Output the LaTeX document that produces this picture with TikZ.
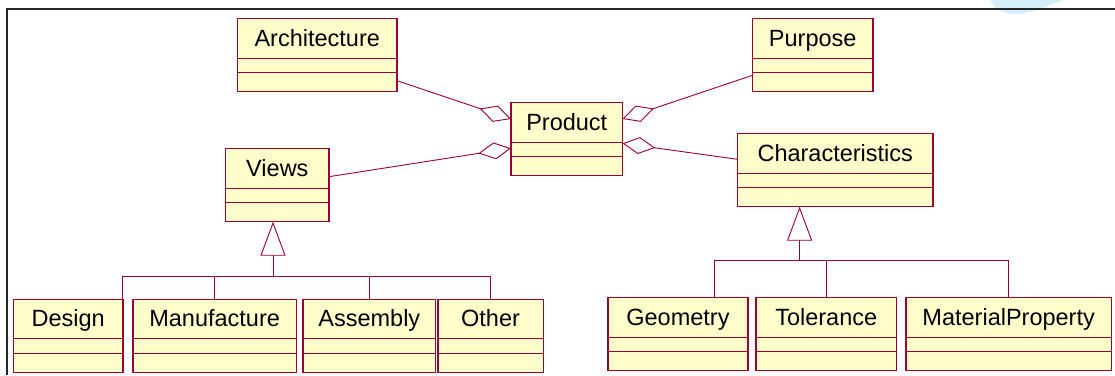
\documentclass[tikz,border=0pt]{standalone}
\usepackage{fontspec}
\setmainfont{Liberation Sans}
\usetikzlibrary{arrows.meta}
\definecolor{umlred}{RGB}{153,0,51}
\definecolor{umlfill}{RGB}{255,255,204}
\definecolor{blobblue}{RGB}{214,238,250}

\begin{document}
\begin{tikzpicture}[x=1pt,y=-1pt,
    classbox/.style={draw=umlred, fill=umlfill, line width=1.3pt, minimum width=#1,
        inner sep=0pt, outer sep=0pt, text height=27.5pt, text depth=45.5pt,
        anchor=north west, font=\fontsize{23.5}{28}\selectfont},
    umlline/.style={draw=umlred, line width=0.9pt},
    aggr/.style={umlline, -{Diamond[open, length=33pt, width=17pt]}},
    inherit/.style={umlline, -{Triangle[open, length=34pt, width=25pt]}}]
                \useasboundingbox (0,0) rectangle (1115,375);

                \fill[blobblue] (990,0) .. controls (995,10) and (1005,15) .. (1020,14)
                    .. controls (1035,12) and (1050,5) .. (1063,0) -- cycle;
                \draw[line width=2pt, black!85] (6.7,375) -- (6.7,9.3) -- (1115,9.3);

                \node[classbox=159.5pt] (arch) at (237.5,18.7) {Architecture};
                \node[classbox=120.5pt] (purp) at (752.5,18.7) {Purpose};
                \node[classbox=111.5pt] (prod) at (511,102.7) {Product};
                \node[classbox=195.5pt] (char) at (737.5,133.7) {Characteristics};
                \node[classbox=103.3pt] (views) at (225.7,148.7) {Views};

                \node[classbox=109.3pt] (design) at (13.6,299.3) {Design};
                \node[classbox=163.5pt] (manuf) at (132.9,299.3) {Manufacture};
                \node[classbox=132.8pt] (assem) at (302.9,299.3) {Assembly};
                \node[classbox=105.3pt] (other) at (437.9,299.3) {Other};
                \node[classbox=140.1pt] (geom) at (607.9,297.7) {Geometry};
                \node[classbox=140.4pt] (toler) at (756,297.7) {Tolerance};
                \node[classbox=205.3pt] (matpr) at (906,297.7) {MaterialProperty};

                \foreach \n in {arch,purp,prod,char,views,design,manuf,assem,other,geom,toler,matpr}
                    \draw[umlline] ([yshift=-39.5pt]\n.north west) -- ([yshift=-39.5pt]\n.north east)
                        ([yshift=-54pt]\n.north west) -- ([yshift=-54pt]\n.north east);

                \draw[aggr] ([yshift=11pt]arch.south east) -- ([yshift=-16.3pt]prod.north west);
                \draw[aggr] ([yshift=-28pt]views.north east) -- ([yshift=-45.6pt]prod.north west);
                \draw[aggr] ([yshift=-56.6pt]purp.north west) -- ([yshift=-16.3pt]prod.north east);
                \draw[aggr] ([yshift=-25.6pt]char.north west) -- ([yshift=-40.6pt]prod.north east);

                \coordinate (vbus) at (273,276.3);
                \coordinate (cbus) at (799.6,260);

                \draw[inherit] (vbus) -- (views.south -| vbus);
                \draw[umlline] (design.north east) |- (other.north |- vbus) -- (other.north);
                \foreach \c in {manuf,assem}
                    \draw[umlline] (\c.north) -- (\c.north |- vbus);

                \draw[inherit] (cbus) -- (char.south -| cbus);
                \draw[umlline] ([xshift=36pt]geom.north) |- (matpr.north |- cbus) -- (matpr.north);
                \draw[umlline] (toler.north) -- (toler.north |- cbus);
            
            \end{tikzpicture}
\end{document}
